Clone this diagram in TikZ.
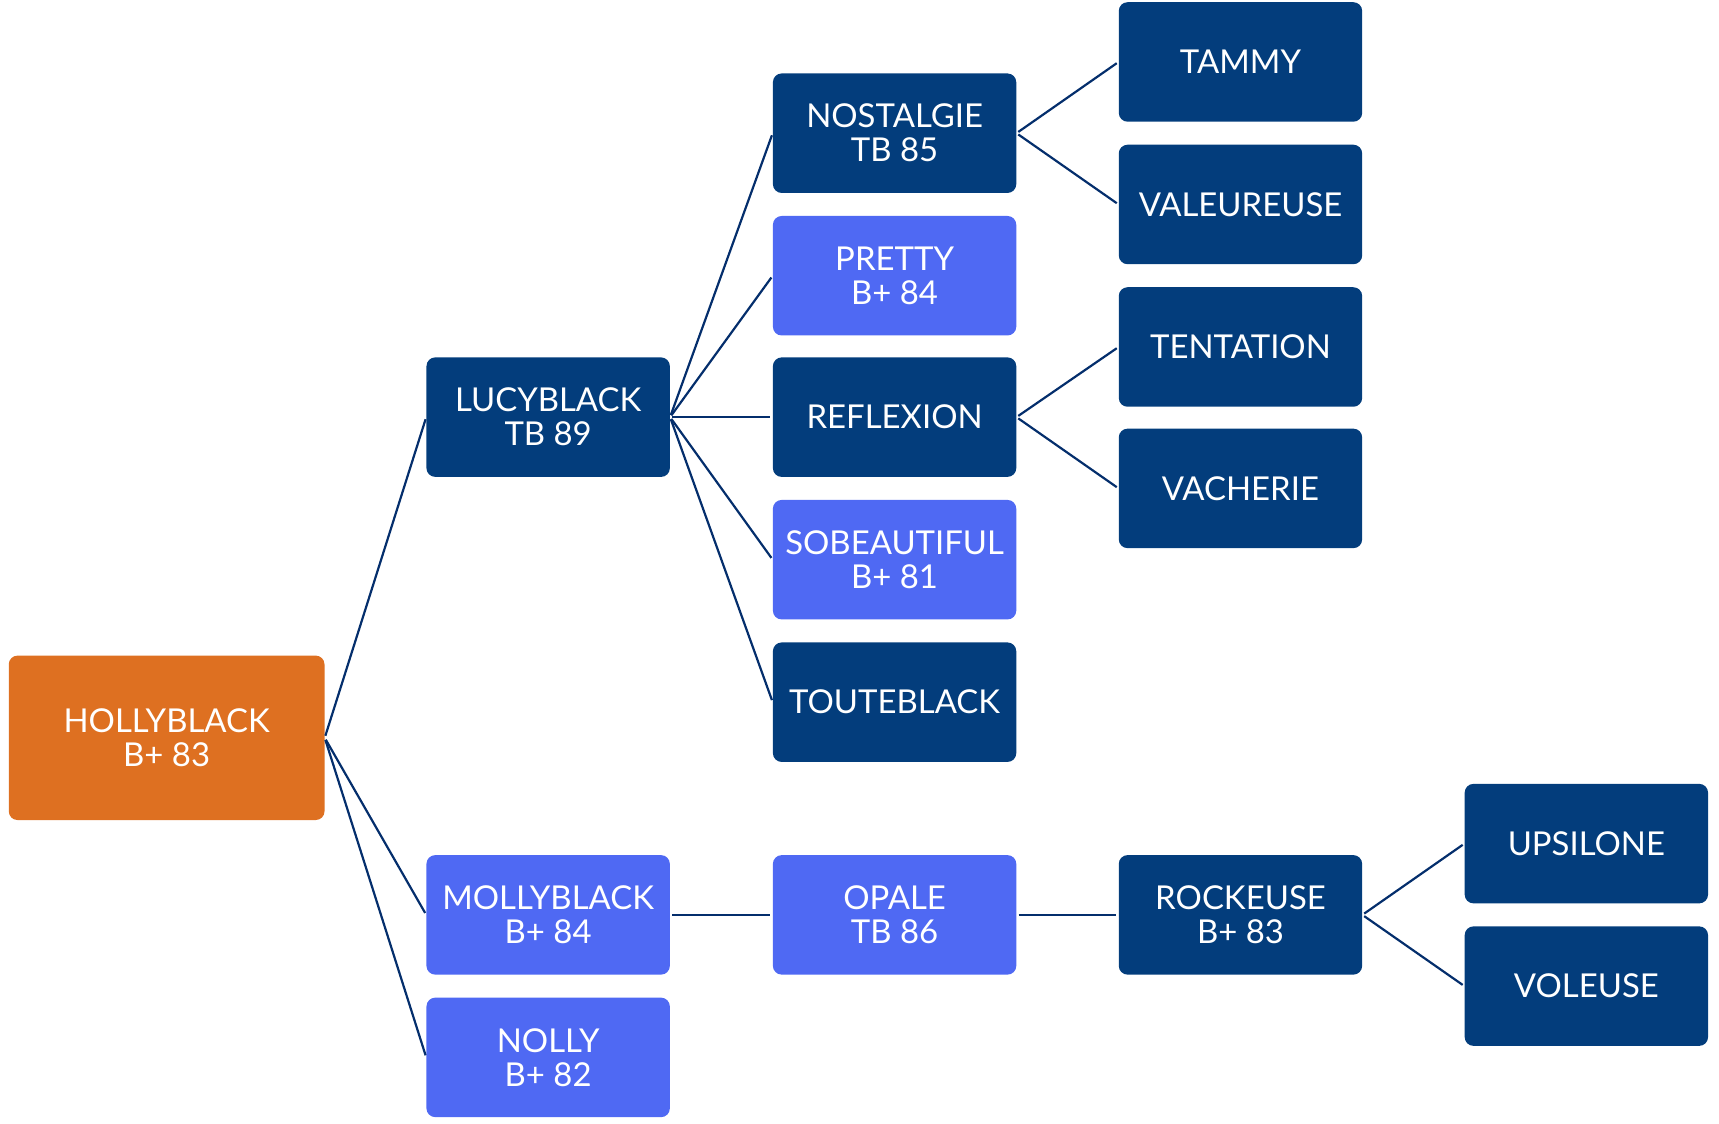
\documentclass[tikz,border=0pt]{standalone}
\usepackage{fontspec}
\setmainfont{Lato}
\definecolor{navy}{RGB}{3,61,124}
\definecolor{bleu}{RGB}{79,105,243}
\definecolor{orange}{RGB}{222,112,33}
\definecolor{trait}{RGB}{4,46,108}
\begin{document}
\begin{tikzpicture}[x=1pt,y=-1pt,
  box/.style={rounded corners=8pt, inner sep=0pt, minimum width=222pt, minimum height=109pt,
    text=white, align=center, font=\fontsize{30}{31}\selectfont},
  dark/.style={box, fill=navy},
  light/.style={box, fill=bleu},
  root/.style={box, fill=orange, minimum width=288pt, minimum height=150pt},
  link/.style={draw=trait, line width=2pt, shorten <=2pt, shorten >=2pt}]
\useasboundingbox (0,0) rectangle (1568,1025);
\node[root]  (holly) at (152,673) {HOLLYBLACK\\B+ 83};
\node[dark]  (lucy)  at (500,380.5) {LUCYBLACK\\TB 89};
\node[light] (molly) at (500,834.5) {MOLLYBLACK\\B+ 84};
\node[light] (nolly) at (500,964.5) {NOLLY\\B+ 82};
\node[dark]  (nost)  at (816,121.5) {NOSTALGIE\\TB 85};
\node[light] (pretty) at (816,251.5) {PRETTY\\B+ 84};
\node[dark]  (refl)  at (816,380.5) {REFLEXION};
\node[light] (sobe)  at (816,510.5) {SOBEAUTIFUL\\B+ 81};
\node[dark]  (toute) at (816,640.5) {TOUTEBLACK};
\node[light] (opale) at (816,834.5) {OPALE\\TB 86};
\node[dark]  (tammy) at (1131.5,56.5) {TAMMY};
\node[dark]  (valeur) at (1131.5,186.5) {VALEUREUSE};
\node[dark]  (tent)  at (1131.5,316.5) {TENTATION};
\node[dark]  (vach)  at (1131.5,445.5) {VACHERIE};
\node[dark]  (rock)  at (1131.5,834.5) {ROCKEUSE\\B+ 83};
\node[dark]  (ups)   at (1447,769.5) {UPSILONE};
\node[dark]  (vol)   at (1447,899.5) {VOLEUSE};
\foreach \c in {lucy,molly,nolly} \draw[link] (holly.east) -- (\c.west);
\foreach \c in {nost,pretty,refl,sobe,toute} \draw[link] (lucy.east) -- (\c.west);
\foreach \c in {tammy,valeur} \draw[link] (nost.east) -- (\c.west);
\foreach \c in {tent,vach} \draw[link] (refl.east) -- (\c.west);
\draw[link] (molly.east) -- (opale.west);
\draw[link] (opale.east) -- (rock.west);
\foreach \c in {ups,vol} \draw[link] (rock.east) -- (\c.west);
\end{tikzpicture}
\end{document}
